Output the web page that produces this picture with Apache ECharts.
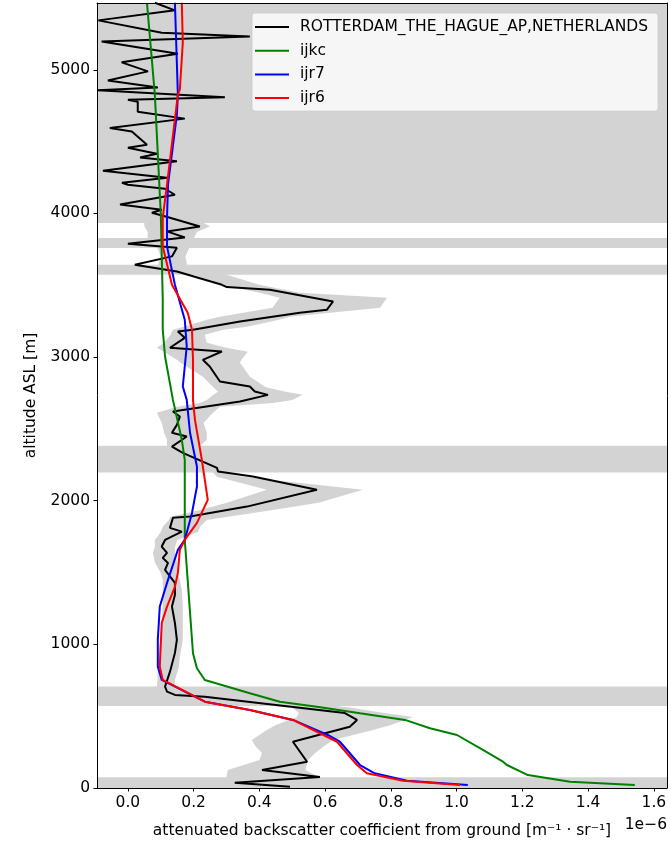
<!DOCTYPE html>
<html>
<head>
<meta charset="utf-8">
<script src="https://cdn.jsdelivr.net/npm/echarts@6/dist/echarts.min.js"></script>
<style>
html,body{margin:0;padding:0;background:#fff;}
#main{width:671px;height:845px;}
</style>
</head>
<body>
<div id="main"></div>
<script>
// values in 1e-6 m-1 sr-1, altitude in m
var blackAlt = [9, 37, 77, 125, 183, 322, 427, 474, 522, 636, 648, 671, 706, 810, 940, 1031, 1149, 1263, 1344, 1428, 1518, 1567, 1602, 1637, 1681, 1727, 1785, 1811, 1881, 1890, 1959, 2076, 2168, 2203, 2229, 2333, 2377, 2447, 2473, 2528, 2586, 2621, 2691, 2737, 2760, 2795, 2830, 2934, 2981, 3039, 3065, 3134, 3178, 3190, 3248, 3308, 3329, 3387, 3469, 3487, 3503, 3596, 3643, 3701, 3761, 3789, 3832, 3875, 3909, 3970, 4005, 4026, 4062, 4130, 4172, 4200, 4214, 4248, 4297, 4363, 4390, 4416, 4458, 4478, 4571, 4595, 4660, 4708, 4778, 4792, 4808, 4857, 4876, 4926, 4989, 5052, 5112, 5197, 5231, 5258, 5344, 5414, 5467];
var blackX = [0.493, 0.325, 0.584, 0.408, 0.545, 0.502, 0.675, 0.697, 0.660, 0.234, 0.143, 0.119, 0.113, 0.128, 0.143, 0.149, 0.143, 0.134, 0.143, 0.143, 0.113, 0.122, 0.106, 0.119, 0.103, 0.113, 0.164, 0.128, 0.137, 0.189, 0.362, 0.575, 0.380, 0.274, 0.271, 0.167, 0.134, 0.179, 0.134, 0.149, 0.158, 0.137, 0.341, 0.426, 0.386, 0.371, 0.280, 0.249, 0.228, 0.286, 0.128, 0.173, 0.152, 0.198, 0.341, 0.523, 0.605, 0.624, 0.432, 0.301, 0.286, 0.149, 0.021, 0.134, 0.149, 0.000, 0.173, 0.119, 0.219, 0.128, 0.073, 0.103, -0.024, 0.143, 0.113, 0.000, -0.018, 0.119, -0.076, 0.149, 0.037, 0.088, 0.000, 0.058, 0.012, -0.055, 0.173, 0.030, 0.030, 0.000, 0.295, -0.091, 0.091, -0.061, 0.061, -0.019, 0.152, -0.080, 0.371, 0.103, -0.090, 0.143, 0.082];

// uncertainty envelope around the observed profile
var shadeAlt = [0, 77, 125, 195, 244, 286, 334, 400, 438, 495, 522, 560, 580, 703, 752, 843, 912, 1031, 1261, 1379, 1449, 1497, 1570, 1637, 1678, 1727, 1783, 1818, 1866, 1887, 1936, 1985, 2076, 2166, 2196, 2382, 2424, 2473, 2542, 2612, 2654, 2681, 2702, 2737, 2758, 2790, 2863, 2960, 2981, 3037, 3065, 3099, 3155, 3190, 3211, 3260, 3280, 3343, 3413, 3447, 3503, 3573, 3643, 3700, 3753, 3823, 3870, 3910, 3934];
var shadeLow = [0.30, 0.30, 0.304, 0.40, 0.408, 0.39, 0.377, 0.42, 0.45, 0.514, 0.52, 0.50, 0.40, 0.088, 0.09, 0.091, 0.094, 0.097, 0.106, 0.106, 0.106, 0.100, 0.082, 0.076, 0.082, 0.082, 0.100, 0.106, 0.125, 0.128, 0.220, 0.301, 0.423, 0.271, 0.260, 0.119, 0.119, 0.110, 0.103, 0.088, 0.150, 0.219, 0.240, 0.260, 0.274, 0.260, 0.228, 0.160, 0.149, 0.110, 0.088, 0.110, 0.130, 0.137, 0.170, 0.240, 0.280, 0.440, 0.462, 0.400, 0.286, 0.200, 0.091, 0.100, 0.091, 0.060, 0.060, 0.050, 0.050];
var shadeHigh = [0.52, 0.58, 0.54, 0.548, 0.57, 0.593, 0.624, 0.74, 0.80, 0.867, 0.78, 0.675, 0.60, 0.143, 0.143, 0.155, 0.158, 0.167, 0.167, 0.164, 0.158, 0.152, 0.150, 0.143, 0.143, 0.150, 0.213, 0.220, 0.240, 0.300, 0.441, 0.580, 0.715, 0.350, 0.280, 0.220, 0.240, 0.240, 0.230, 0.259, 0.280, 0.441, 0.500, 0.532, 0.480, 0.420, 0.371, 0.341, 0.345, 0.365, 0.300, 0.240, 0.234, 0.290, 0.362, 0.460, 0.493, 0.767, 0.788, 0.523, 0.400, 0.300, 0.180, 0.175, 0.185, 0.200, 0.210, 0.250, 0.230];

var ijkcAlt = [21, 44, 90, 160, 183, 265, 369, 416, 474, 520, 566, 601, 660, 752, 834, 938, 1727, 2284, 2424, 2702, 3004, 3190, 3400, 4000, 4827, 5465];
var ijkcX = [1.542, 1.345, 1.217, 1.153, 1.141, 1.080, 1.001, 0.919, 0.843, 0.706, 0.575, 0.462, 0.371, 0.234, 0.210, 0.198, 0.173, 0.173, 0.164, 0.137, 0.113, 0.106, 0.106, 0.100, 0.082, 0.058];

var ijr7Alt = [21, 51, 102, 160, 322, 369, 474, 543, 601, 752, 845, 1031, 1263, 1428, 1658, 1727, 1915, 2099, 2238, 2473, 2702, 2795, 3074, 3260, 3503, 3771, 3970, 4200, 4688, 4827, 5258, 5467];
var ijr7X = [1.034, 0.849, 0.751, 0.706, 0.645, 0.608, 0.502, 0.371, 0.234, 0.103, 0.091, 0.091, 0.097, 0.119, 0.152, 0.173, 0.195, 0.210, 0.210, 0.189, 0.179, 0.167, 0.179, 0.173, 0.143, 0.119, 0.119, 0.122, 0.149, 0.152, 0.146, 0.143];

var ijr6Alt = [21, 51, 102, 160, 322, 474, 543, 601, 752, 845, 1149, 1263, 1400, 1497, 1658, 1727, 1846, 2006, 2284, 2563, 2702, 2981, 3190, 3308, 3503, 3771, 3970, 4200, 4827, 4862, 5188, 5467];
var ijr6X = [1.010, 0.837, 0.727, 0.697, 0.636, 0.502, 0.371, 0.234, 0.106, 0.097, 0.103, 0.119, 0.143, 0.152, 0.158, 0.173, 0.210, 0.243, 0.225, 0.204, 0.198, 0.198, 0.195, 0.182, 0.134, 0.106, 0.106, 0.119, 0.152, 0.158, 0.167, 0.164];

// masked altitude layers [bottom, top]
var bandLow = [0, 571, 2196, 3573, 3759, 3934];
var bandHigh = [75, 706, 2382, 3643, 3829, 5465];

var xTicks = [0.0, 0.2, 0.4, 0.6, 0.8, 1.0, 1.2, 1.4, 1.6];
var yTicks = [0, 1000, 2000, 3000, 4000, 5000];
var names = ['ROTTERDAM_THE_HAGUE_AP,NETHERLANDS', 'ijkc', 'ijr7', 'ijr6'];

var font = 'DejaVu Sans';
var fs = 15.5;
var gray = '#d3d3d3';

function pairs(xs, ys){
    var out = [];
    for (var i = 0; i < xs.length; i++) out.push([xs[i], ys[i]]);
    return out;
}

var bandData = [];
for (var i = 0; i < bandLow.length; i++) bandData.push([0, bandLow[i], bandHigh[i]]);

var chart = echarts.init(document.getElementById('main'));
var option = {
    animation: false,
    backgroundColor: '#ffffff',
    grid: {left: 97, right: 4, top: 3, bottom: 57},
    textStyle: {fontFamily: font},
    xAxis: [{
        type: 'value', min: -0.094, max: 1.64, position: 'bottom', z: 10,
        name: 'attenuated backscatter coefficient from ground [m\u207B\u00B9 \u00B7 sr\u207B\u00B9]',
        nameLocation: 'middle', nameGap: 35,
        nameTextStyle: {fontSize: fs, color: '#000', fontFamily: font},
        axisLine: {show: true, onZero: false, lineStyle: {color: '#000', width: 1}},
        axisTick: {show: true, length: 3.5, customValues: xTicks, lineStyle: {color: '#000'}},
        axisLabel: {customValues: xTicks, margin: 7, fontSize: fs, color: '#000', fontFamily: font,
            formatter: function(v){ return v.toFixed(1); }},
        splitLine: {show: false}
    }, {
        type: 'value', min: -0.094, max: 1.64, position: 'top', z: 10,
        axisLine: {show: true, onZero: false, lineStyle: {color: '#000', width: 1}},
        axisTick: {show: false}, axisLabel: {show: false}, splitLine: {show: false}
    }],
    yAxis: [{
        type: 'value', min: 0, max: 5465, position: 'left', z: 10,
        name: 'altitude ASL [m]', nameLocation: 'middle', nameGap: 58,
        nameTextStyle: {fontSize: fs, color: '#000', fontFamily: font},
        axisLine: {show: true, onZero: false, lineStyle: {color: '#000', width: 1}},
        axisTick: {show: true, length: 3.5, customValues: yTicks, lineStyle: {color: '#000'}},
        axisLabel: {customValues: yTicks, margin: 7, fontSize: fs, color: '#000', fontFamily: font,
            formatter: function(v){ return String(v); }},
        splitLine: {show: false}
    }, {
        type: 'value', min: 0, max: 5465, position: 'right', z: 10,
        axisLine: {show: true, onZero: false, lineStyle: {color: '#000', width: 1}},
        axisTick: {show: false}, axisLabel: {show: false}, splitLine: {show: false}
    }],
    legend: {
        data: names, orient: 'vertical', left: 252, top: 13,
        icon: 'rect', itemWidth: 34, itemHeight: 2, itemGap: 7.7,
        padding: [6, 10, 5, 3],
        backgroundColor: 'rgba(255,255,255,0.8)',
        borderColor: 'rgba(204,204,204,0.8)', borderWidth: 1, borderRadius: 3,
        textStyle: {fontSize: fs, lineHeight: 14, color: '#000', fontFamily: font, padding: [0, 0, 0, 6]}
    },
    graphic: [{
        type: 'text', right: 4, top: 817, z: 10,
        style: {text: '1e\u22126', font: fs + 'px "DejaVu Sans"', fill: '#000'}
    }],
    series: [{
        // grey masked layers
        type: 'custom', z: 1, silent: true,
        encode: {x: 0, y: [1, 2]},
        data: bandData,
        renderItem: function(params, api){
            var cs = params.coordSys;
            var y0 = api.coord([0, api.value(1)])[1];
            var y1 = api.coord([0, api.value(2)])[1];
            return {type: 'rect', shape: {x: cs.x, y: y1, width: cs.width, height: y0 - y1},
                style: {fill: gray}};
        }
    }, {
        // envelope
        type: 'custom', z: 1, silent: true,
        data: [[0, 0]],
        renderItem: function(params, api){
            var pts = [];
            for (var i = 0; i < shadeAlt.length; i++) pts.push(api.coord([shadeLow[i], shadeAlt[i]]));
            for (var j = shadeAlt.length - 1; j >= 0; j--) pts.push(api.coord([shadeHigh[j], shadeAlt[j]]));
            return {type: 'polygon', shape: {points: pts}, style: {fill: gray}};
        }
    }, {
        name: names[0], type: 'line', z: 3, symbol: 'none', color: '#000000',
        lineStyle: {width: 2, color: '#000000'}, data: pairs(blackX, blackAlt)
    }, {
        name: names[1], type: 'line', z: 3, symbol: 'none', color: '#008000',
        lineStyle: {width: 2, color: '#008000'}, data: pairs(ijkcX, ijkcAlt)
    }, {
        name: names[2], type: 'line', z: 3, symbol: 'none', color: '#0000ff',
        lineStyle: {width: 2, color: '#0000ff'}, data: pairs(ijr7X, ijr7Alt)
    }, {
        name: names[3], type: 'line', z: 3, symbol: 'none', color: '#ff0000',
        lineStyle: {width: 2, color: '#ff0000'}, data: pairs(ijr6X, ijr6Alt)
    }]
};
chart.setOption(option);
</script>
</body>
</html>
